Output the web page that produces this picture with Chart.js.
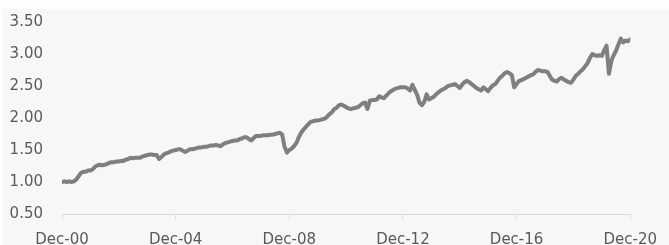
<!DOCTYPE html>
<html lang="en">
<head>
    <meta charset="UTF-8">
    <title>Index since Dec-00</title>
    <script src="https://cdn.jsdelivr.net/npm/chart.js"></script>
    <style>
        html, body { margin: 0; padding: 0; background: #fdfdfd; }
        .panel { position: absolute; left: 3px; top: 9px; width: 666px; height: 236px; background: #f7f7f7; }
    </style>
</head>
<body>
    <div class="panel">
        <canvas id="chart" width="666" height="236"></canvas>
    </div>

    <script>
        // x axis tick labels, every 48 months starting Dec-00
        const tickLabels = ['Dec-00', 'Dec-04', 'Dec-08', 'Dec-12', 'Dec-16', 'Dec-20'];
        const yTicks = [0.5, 1.0, 1.5, 2.0, 2.5, 3.0, 3.5];

        // monthly index level, Dec-00 .. Dec-20
        const values = [
            1.00,
            1.01, 1.00, 1.01, 1.00, 1.01, 1.04, 1.09, 1.14, 1.16, 1.16, 1.18, 1.18,
            1.20, 1.24, 1.26, 1.27, 1.26, 1.27, 1.28, 1.30, 1.31, 1.31, 1.32, 1.32,
            1.33, 1.33, 1.35, 1.36, 1.38, 1.37, 1.38, 1.38, 1.38, 1.40, 1.41, 1.42,
            1.43, 1.43, 1.42, 1.42, 1.36, 1.39, 1.43, 1.45, 1.46, 1.48, 1.49, 1.50,
            1.51, 1.51, 1.49, 1.47, 1.49, 1.51, 1.51, 1.52, 1.53, 1.54, 1.54, 1.55,
            1.55, 1.56, 1.57, 1.57, 1.58, 1.57, 1.56, 1.59, 1.61, 1.62, 1.63, 1.64,
            1.65, 1.65, 1.67, 1.68, 1.70, 1.70, 1.67, 1.65, 1.69, 1.72, 1.72, 1.72,
            1.73, 1.73, 1.73, 1.74, 1.74, 1.75, 1.76, 1.77, 1.74, 1.55, 1.46, 1.50,
            1.52, 1.56, 1.61, 1.70, 1.77, 1.82, 1.86, 1.90, 1.94, 1.95, 1.96, 1.96,
            1.97, 1.98, 1.99, 2.02, 2.06, 2.09, 2.14, 2.16, 2.20, 2.21, 2.19, 2.17,
            2.15, 2.14, 2.15, 2.16, 2.17, 2.20, 2.23, 2.24, 2.14, 2.27, 2.28, 2.28,
            2.29, 2.34, 2.32, 2.31, 2.35, 2.39, 2.42, 2.44, 2.46, 2.47, 2.48, 2.48,
            2.48, 2.46, 2.43, 2.52, 2.44, 2.36, 2.24, 2.20, 2.25, 2.37, 2.29, 2.31,
            2.33, 2.37, 2.40, 2.43, 2.45, 2.47, 2.50, 2.51, 2.52, 2.53, 2.50, 2.47,
            2.52, 2.56, 2.58, 2.56, 2.53, 2.50, 2.47, 2.45, 2.43, 2.48, 2.45, 2.42,
            2.47, 2.51, 2.53, 2.58, 2.63, 2.66, 2.70, 2.72, 2.70, 2.67, 2.48, 2.53,
            2.58, 2.59, 2.61, 2.63, 2.65, 2.67, 2.68, 2.72, 2.75, 2.74, 2.73, 2.73,
            2.72, 2.66, 2.60, 2.58, 2.57, 2.61, 2.63, 2.60, 2.58, 2.56, 2.55, 2.60,
            2.66, 2.69, 2.73, 2.76, 2.81, 2.86, 2.94, 3.00, 2.98, 2.97, 2.98, 2.97,
            3.06, 3.13, 2.69, 2.89, 2.98, 3.05, 3.15, 3.24, 3.18, 3.21, 3.20, 3.23
        ];

        const textColor = '#595959';
        const font = { family: 'DejaVu Sans', size: 15 };

        new Chart(document.getElementById('chart'), {
            type: 'line',
            data: {
                datasets: [{
                    data: values.map((v, i) => ({ x: i, y: v })),
                    borderColor: '#7f7f7f',
                    borderWidth: 4,
                    pointRadius: 0,
                    tension: 0,
                    borderJoinStyle: 'round',
                    borderCapStyle: 'round'
                }]
            },
            options: {
                responsive: false,
                animation: false,
                layout: { padding: { top: 13, left: 0, right: 0, bottom: 0 } },
                plugins: { legend: { display: false }, tooltip: { enabled: false } },
                scales: {
                    x: {
                        type: 'linear',
                        min: 0,
                        max: 240,
                        afterBuildTicks: (scale) => {
                            scale.ticks = tickLabels.map((_, i) => ({ value: i * 48 }));
                        },
                        ticks: {
                            color: textColor,
                            font: font,
                            padding: 12,
                            maxRotation: 0,
                            autoSkip: false,
                            callback: (value) => tickLabels[value / 48]
                        },
                        grid: { drawOnChartArea: false, color: '#d9d9d9', tickLength: 5 },
                        border: { color: '#d9d9d9', width: 1 },
                        afterFit: (scale) => { scale.height = 31; }
                    },
                    y: {
                        min: 0.5,
                        max: 3.5,
                        afterBuildTicks: (scale) => {
                            scale.ticks = yTicks.map(v => ({ value: v }));
                        },
                        ticks: {
                            color: textColor,
                            font: font,
                            padding: 19,
                            callback: (value) => value.toFixed(2)
                        },
                        grid: { display: false, drawTicks: false },
                        border: { display: false },
                        afterFit: (scale) => {
                            scale.width = 59;
                            scale.paddingTop = 0;
                            scale.paddingBottom = 0;
                        }
                    }
                }
            }
        });
    </script>
</body>
</html>
